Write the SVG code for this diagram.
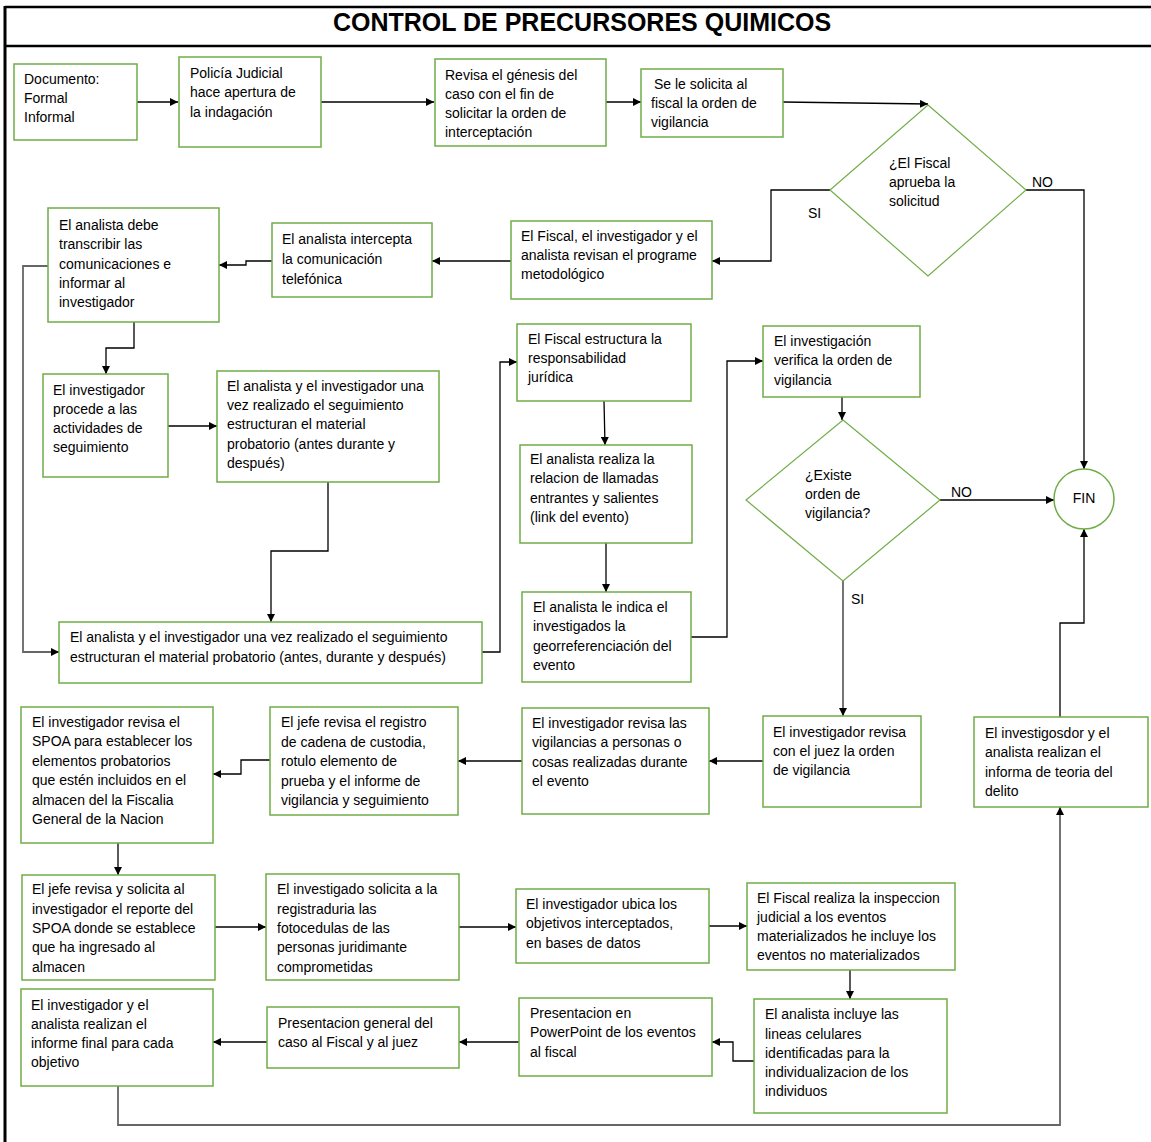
<svg xmlns="http://www.w3.org/2000/svg" width="1151" height="1142" viewBox="0 0 1151 1142">
<style>
.box{fill:#fff;stroke:#70ad47;stroke-width:1.5}
.dia{fill:#fff;stroke:#70ad47;stroke-width:1.2}
.t{font-family:"Liberation Sans",Arial,sans-serif;font-size:14px;fill:#000}
.c{fill:none;stroke:#000;stroke-width:1.3}
.g{fill:none;stroke:#666;stroke-width:1.8}
.title{font-family:"Liberation Sans",Arial,sans-serif;font-size:25px;font-weight:bold;fill:#000}
</style>
<defs>
<marker id="ah" viewBox="0 0 10 10" refX="10" refY="5" markerWidth="8" markerHeight="8" markerUnits="userSpaceOnUse" orient="auto">
<path d="M0,0 L10,5 L0,10 z" fill="#000"/>
</marker>
</defs>
<rect width="1151" height="1142" fill="#fff"/>
<g id="frame">
<line x1="5" y1="7" x2="1151" y2="7" stroke="#000" stroke-width="2.5"/>
<line x1="5" y1="46" x2="1151" y2="46" stroke="#000" stroke-width="2.5"/>
<line x1="5" y1="6" x2="5" y2="1142" stroke="#000" stroke-width="3"/>
<text class="title" x="582" y="31" text-anchor="middle">CONTROL DE PRECURSORES QUIMICOS</text>
</g>
<g id="connectors">
<path class="c" d="M137,102 H178" marker-end="url(#ah)"/>
<path class="c" d="M321,102 H434" marker-end="url(#ah)"/>
<path class="c" d="M606,102 H641" marker-end="url(#ah)"/>
<path class="c" d="M783,102 L928,104" marker-end="url(#ah)"/>
<path class="c" d="M830,190 H771 V261 H712" marker-end="url(#ah)"/>
<path class="c" d="M1026,190 H1084 V469" marker-end="url(#ah)"/>
<path class="c" d="M511,261 H432" marker-end="url(#ah)"/>
<path class="c" d="M272,261 H246 V265 H219" marker-end="url(#ah)"/>
<path class="g" d="M48,266 H23 V652 H59" marker-end="url(#ah)"/>
<path class="c" d="M134,322 V348 H106 V374" marker-end="url(#ah)"/>
<path class="c" d="M168,426 H217" marker-end="url(#ah)"/>
<path class="c" d="M328,482 V551 H271 V622" marker-end="url(#ah)"/>
<path class="c" d="M482,652 H500 V362 H517" marker-end="url(#ah)"/>
<path class="c" d="M604,401 L605,445" marker-end="url(#ah)"/>
<path class="c" d="M606,543 V592" marker-end="url(#ah)"/>
<path class="c" d="M691,637 H727 V361 H763" marker-end="url(#ah)"/>
<path class="c" d="M842,397 V420" marker-end="url(#ah)"/>
<path class="c" d="M940,500 H1054" marker-end="url(#ah)"/>
<path class="g" d="M843,581 V716" marker-end="url(#ah)"/>
<path class="c" d="M763,761 H709" marker-end="url(#ah)"/>
<path class="c" d="M522,761 H458" marker-end="url(#ah)"/>
<path class="c" d="M270,760 H241 V774 H213" marker-end="url(#ah)"/>
<path class="c" d="M118,843 V875" marker-end="url(#ah)"/>
<path class="c" d="M215,927 H266" marker-end="url(#ah)"/>
<path class="c" d="M459,927 H516" marker-end="url(#ah)"/>
<path class="c" d="M709,926 H747" marker-end="url(#ah)"/>
<path class="c" d="M850,970 V999" marker-end="url(#ah)"/>
<path class="c" d="M754,1061 H733 V1042 H712" marker-end="url(#ah)"/>
<path class="c" d="M519,1042 H459" marker-end="url(#ah)"/>
<path class="c" d="M267,1042 H213" marker-end="url(#ah)"/>
<path class="g" d="M118,1086 V1125 H1060 V807" marker-end="url(#ah)"/>
<path class="c" d="M1060,717 V623 H1084 V529" marker-end="url(#ah)"/>
<text class="t" x="808" y="218">SI</text>
<text class="t" x="1032" y="187">NO</text>
<text class="t" x="951" y="497">NO</text>
<text class="t" x="851" y="604">SI</text>
</g>
<g id="n1"><rect class="box" x="14" y="64" width="123" height="76"/>
<text class="t" x="24" y="84">Documento:</text><text class="t" x="24" y="103">Formal</text><text class="t" x="24" y="122">Informal</text></g>
<g id="n2"><rect class="box" x="179" y="57" width="142" height="90"/>
<text class="t" x="190" y="78">Policía Judicial</text><text class="t" x="190" y="97">hace apertura de</text><text class="t" x="190" y="117">la indagación</text></g>
<g id="n3"><rect class="box" x="435" y="59" width="171" height="87"/>
<text class="t" x="445" y="80">Revisa el génesis del</text><text class="t" x="445" y="99">caso con el fin de</text><text class="t" x="445" y="118">solicitar la orden de</text><text class="t" x="445" y="137">interceptación</text></g>
<g id="n4"><rect class="box" x="641" y="69" width="142" height="68"/>
<text class="t" x="654" y="89">Se le solicita al</text><text class="t" x="651" y="108">fiscal la orden de</text><text class="t" x="651" y="127">vigilancia</text></g>
<g id="n5"><polygon class="dia" points="928,105 1026,190 928,276 830,190"/>
<text class="t" x="889" y="168">¿El Fiscal</text><text class="t" x="889" y="187">aprueba la</text><text class="t" x="889" y="206">solicitud</text></g>
<g id="n6"><rect class="box" x="511" y="221" width="201" height="78"/>
<text class="t" x="521" y="241">El Fiscal, el investigador y el</text><text class="t" x="521" y="260">analista revisan el programe</text><text class="t" x="521" y="279">metodológico</text></g>
<g id="n7"><rect class="box" x="272" y="223" width="160" height="74"/>
<text class="t" x="282" y="244">El analista intercepta</text><text class="t" x="282" y="264">la comunicación</text><text class="t" x="282" y="284">telefónica</text></g>
<g id="n8"><rect class="box" x="48" y="208" width="171" height="114"/>
<text class="t" x="59" y="230">El analista debe</text><text class="t" x="59" y="249">transcribir las</text><text class="t" x="59" y="269">comunicaciones e</text><text class="t" x="59" y="288">informar al</text><text class="t" x="59" y="307">investigador</text></g>
<g id="n9"><rect class="box" x="43" y="374" width="125" height="103"/>
<text class="t" x="53" y="395">El investigador</text><text class="t" x="53" y="414">procede a las</text><text class="t" x="53" y="433">actividades de</text><text class="t" x="53" y="452">seguimiento</text></g>
<g id="n10"><rect class="box" x="217" y="371" width="222" height="111"/>
<text class="t" x="227" y="391">El analista y el investigador una</text><text class="t" x="227" y="410">vez realizado el seguimiento</text><text class="t" x="227" y="429">estructuran el material</text><text class="t" x="227" y="449">probatorio (antes durante y</text><text class="t" x="227" y="468">después)</text></g>
<g id="n11"><rect class="box" x="59" y="622" width="423" height="61"/>
<text class="t" x="70" y="642">El analista y el investigador una vez realizado el seguimiento</text><text class="t" x="70" y="662">estructuran el material probatorio (antes, durante y después)</text></g>
<g id="n12"><rect class="box" x="517" y="324" width="174" height="77"/>
<text class="t" x="528" y="344">El Fiscal estructura la</text><text class="t" x="528" y="363">responsabilidad</text><text class="t" x="528" y="382">jurídica</text></g>
<g id="n13"><rect class="box" x="520" y="445" width="172" height="98"/>
<text class="t" x="530" y="464">El analista realiza la</text><text class="t" x="530" y="483">relacion de llamadas</text><text class="t" x="530" y="503">entrantes y salientes</text><text class="t" x="530" y="522">(link del evento)</text></g>
<g id="n14"><rect class="box" x="522" y="592" width="169" height="90"/>
<text class="t" x="533" y="612">El analista le indica el</text><text class="t" x="533" y="631">investigados la</text><text class="t" x="533" y="651">georreferenciación del</text><text class="t" x="533" y="670">evento</text></g>
<g id="n15"><rect class="box" x="763" y="326" width="157" height="71"/>
<text class="t" x="774" y="346">El investigación</text><text class="t" x="774" y="365">verifica la orden de</text><text class="t" x="774" y="385">vigilancia</text></g>
<g id="n16"><polygon class="dia" points="843,420 940,500 843,581 746,500"/>
<text class="t" x="805" y="480">¿Existe</text><text class="t" x="805" y="499">orden de</text><text class="t" x="805" y="518">vigilancia?</text></g>
<g id="n17"><circle class="box" cx="1084" cy="499" r="30"/>
<text class="t" x="1084" y="503" text-anchor="middle">FIN</text></g>
<g id="n18"><rect class="box" x="763" y="716" width="158" height="91"/>
<text class="t" x="773" y="737">El investigador revisa</text><text class="t" x="773" y="756">con el juez la orden</text><text class="t" x="773" y="775">de vigilancia</text></g>
<g id="n19"><rect class="box" x="974" y="717" width="174" height="90"/>
<text class="t" x="985" y="738">El investigosdor y el</text><text class="t" x="985" y="757">analista realizan el</text><text class="t" x="985" y="777">informa de teoria del</text><text class="t" x="985" y="796">delito</text></g>
<g id="n20"><rect class="box" x="522" y="708" width="187" height="106"/>
<text class="t" x="532" y="728">El investigador revisa las</text><text class="t" x="532" y="747">vigilancias a personas o</text><text class="t" x="532" y="767">cosas realizadas durante</text><text class="t" x="532" y="786">el evento</text></g>
<g id="n21"><rect class="box" x="270" y="707" width="188" height="108"/>
<text class="t" x="281" y="727">El jefe revisa el registro</text><text class="t" x="281" y="747">de cadena de custodia,</text><text class="t" x="281" y="766">rotulo elemento de</text><text class="t" x="281" y="786">prueba y el informe de</text><text class="t" x="281" y="805">vigilancia y seguimiento</text></g>
<g id="n22"><rect class="box" x="21" y="707" width="192" height="136"/>
<text class="t" x="32" y="727">El investigador revisa el</text><text class="t" x="32" y="746">SPOA para establecer los</text><text class="t" x="32" y="766">elementos probatorios</text><text class="t" x="32" y="785">que estén incluidos en el</text><text class="t" x="32" y="805">almacen del la Fiscalia</text><text class="t" x="32" y="824">General de la Nacion</text></g>
<g id="n23"><rect class="box" x="22" y="875" width="193" height="105"/>
<text class="t" x="32" y="894">El jefe revisa y solicita al</text><text class="t" x="32" y="914">investigador el reporte del</text><text class="t" x="32" y="933">SPOA donde se establece</text><text class="t" x="32" y="952">que ha ingresado al</text><text class="t" x="32" y="972">almacen</text></g>
<g id="n24"><rect class="box" x="266" y="874" width="193" height="106"/>
<text class="t" x="277" y="894">El investigado solicita a la</text><text class="t" x="277" y="914">registraduria las</text><text class="t" x="277" y="933">fotocedulas de las</text><text class="t" x="277" y="952">personas juridimante</text><text class="t" x="277" y="972">comprometidas</text></g>
<g id="n25"><rect class="box" x="516" y="889" width="193" height="74"/>
<text class="t" x="526" y="909">El investigador ubica los</text><text class="t" x="526" y="928">objetivos interceptados,</text><text class="t" x="526" y="948">en bases de datos</text></g>
<g id="n26"><rect class="box" x="747" y="883" width="208" height="87"/>
<text class="t" x="757" y="903">El Fiscal realiza la inspeccion</text><text class="t" x="757" y="922">judicial a los eventos</text><text class="t" x="757" y="941">materializados he incluye los</text><text class="t" x="757" y="960">eventos no materializados</text></g>
<g id="n27"><rect class="box" x="754" y="999" width="193" height="114"/>
<text class="t" x="765" y="1019">El analista incluye las</text><text class="t" x="765" y="1039">lineas celulares</text><text class="t" x="765" y="1058">identificadas para la</text><text class="t" x="765" y="1077">individualizacion de los</text><text class="t" x="765" y="1096">individuos</text></g>
<g id="n28"><rect class="box" x="519" y="998" width="193" height="78"/>
<text class="t" x="530" y="1018">Presentacion en</text><text class="t" x="530" y="1037">PowerPoint de los eventos</text><text class="t" x="530" y="1057">al fiscal</text></g>
<g id="n29"><rect class="box" x="267" y="1007" width="192" height="61"/>
<text class="t" x="278" y="1028">Presentacion general del</text><text class="t" x="278" y="1047">caso al Fiscal y al juez</text></g>
<g id="n30"><rect class="box" x="21" y="989" width="192" height="97"/>
<text class="t" x="31" y="1010">El investigador y el</text><text class="t" x="31" y="1029">analista realizan el</text><text class="t" x="31" y="1048">informe final para cada</text><text class="t" x="31" y="1067">objetivo</text></g>
</svg>
